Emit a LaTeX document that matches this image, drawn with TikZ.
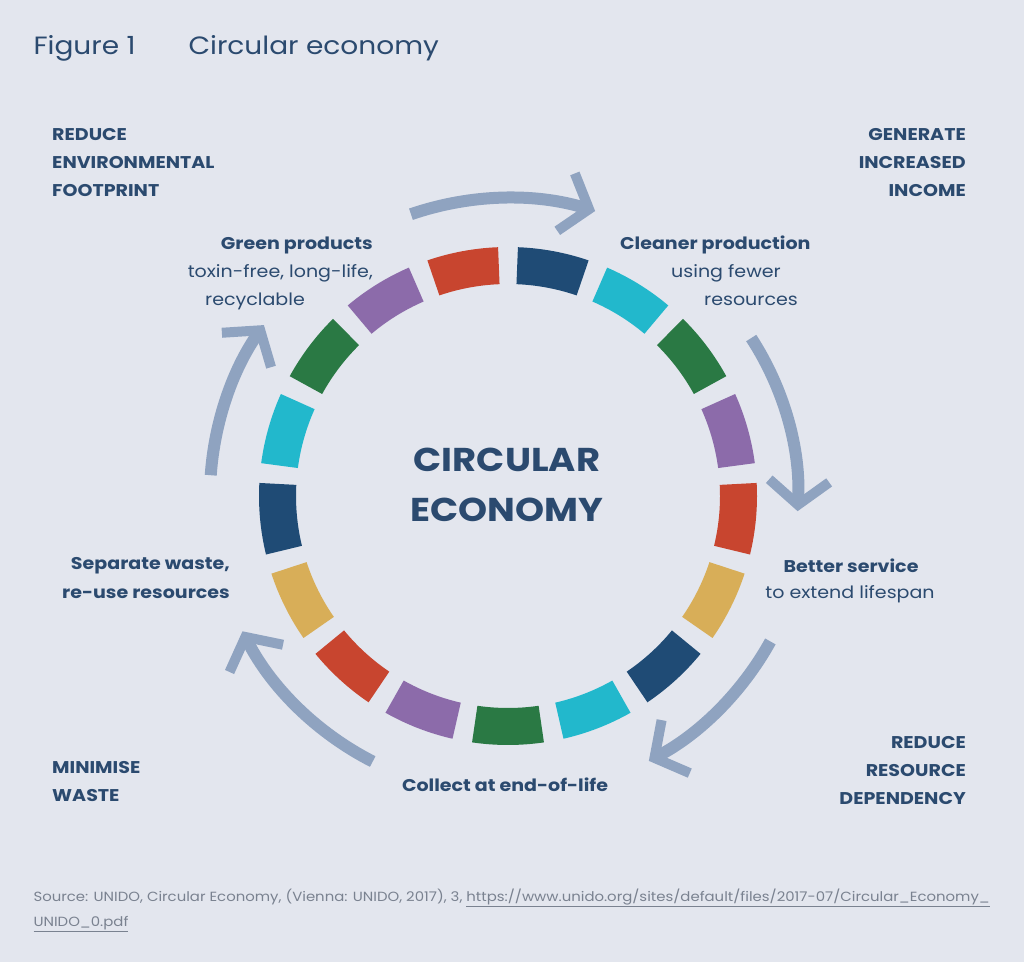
\documentclass[tikz,border=0pt]{standalone}
\usepackage{fontspec}
\setmainfont[FakeStretch=1.12]{Poppins}
\usetikzlibrary{arrows.meta}
\definecolor{bg}{HTML}{E3E6EE}
\definecolor{txt}{HTML}{2B4A6F}
\definecolor{arr}{HTML}{8FA3C0}
\definecolor{cnavy}{HTML}{1F4B75}
\definecolor{ccyan}{HTML}{22B8CC}
\definecolor{cgreen}{HTML}{2A7944}
\definecolor{cpurple}{HTML}{8C6BAA}
\definecolor{cred}{HTML}{C8452F}
\definecolor{cyellow}{HTML}{D8AE58}
\definecolor{src}{HTML}{7A8290}
\tikzset{
 lab/.style={text=txt,font=\fontsize{17}{28}\selectfont,inner sep=0pt},
 labb/.style={lab,font=\fontsize{17}{28}\selectfont\bfseries},
 cyc/.style={draw=arr,line width=12pt,-{Straight Barb[length=24pt,width=60pt,line width=10pt]}}
}
\begin{document}
\begin{tikzpicture}[x=1pt,y=1pt]
\fill[bg] (0,0) rectangle (1024,962);
\useasboundingbox (0,0) rectangle (1024,962);
\coordinate (c) at (508,466);
\foreach \k/\col in {0/cgreen,1/ccyan,2/cnavy,3/cyellow,4/cred,5/cpurple,6/cgreen,7/ccyan,8/cnavy,9/cred,10/cpurple,11/cgreen,12/ccyan,13/cnavy,14/cyellow,15/cred,16/cpurple}{
  \pgfmathsetmacro{\aa}{-90+\k*360/17-8.3}
  \pgfmathsetmacro{\ab}{-90+\k*360/17+8.3}
  \fill[\col] ([shift={(c)}]\aa:212) arc[start angle=\aa,end angle=\ab,radius=212]
     -- ([shift={(c)}]\ab:249) arc[start angle=\ab,end angle=\aa,radius=249] -- cycle;
}
\draw[cyc] ([shift={(c)}]109:298) arc[start angle=109,end angle=73,radius=298];
\draw[cyc] ([shift={(c)}]33:290) arc[start angle=33,end angle=-3,radius=290];
\draw[cyc] ([shift={(c)}]-29:300) arc[start angle=-29,end angle=-62,radius=300];
\draw[cyc] ([shift={(c)}]243:298) arc[start angle=243,end angle=207,radius=298];
\draw[cyc] ([shift={(c)}]176:298) arc[start angle=176,end angle=145,radius=298];
\node[text=txt,font=\fontsize{25}{30}\selectfont,anchor=west] (t1) at (30,914) {Figure 1};
\node[text=txt,font=\fontsize{25}{30}\selectfont,anchor=west] (t2) at (185,914) {Circular economy};
\node[labb,anchor=west,align=left] (ul) at (52,799) {REDUCE\\ENVIRONMENTAL\\FOOTPRINT};
\node[labb,anchor=east,align=right] (ur) at (966,799) {GENERATE\\INCREASED\\INCOME};
\node[labb,anchor=west,align=left] (ll) at (52,180) {MINIMISE\\WASTE};
\node[labb,anchor=east,align=right] (lr) at (966,191) {REDUCE\\RESOURCE\\DEPENDENCY};
\node[labb,anchor=east] (g1) at (373,717) {Green products};
\node[lab,anchor=east] (g2) at (373,689) {toxin-free, long-life,};
\node[lab] (g3) at (255,661) {recyclable};
\node[labb,anchor=west] (c1) at (620,717) {Cleaner production};
\node[lab] (c2) at (726,689) {using fewer};
\node[lab] (c3) at (751,661) {resources};
\node[labb] (b1) at (851,396) {Better service};
\node[lab] (b2) at (850,368) {to extend lifespan};
\node[labb,anchor=east] (s1) at (230,396) {Separate waste,};
\node[labb,anchor=east] (s2) at (230,368) {re-use resources};
\node[labb] (e1) at (505,177) {Collect at end-of-life};
\node[text=txt,font=\fontsize{33}{50}\selectfont\bfseries,align=center] (ce) at (507,477) {CIRCULAR\\ECONOMY};
\node[text=src,font=\fontsize{13.3}{25}\selectfont,anchor=west,align=left] (so) at (30,52)
 {Source: UNIDO, Circular Economy, (Vienna: UNIDO, 2017), 3, \underline{https://www.unido.org/sites/default/files/2017-07/Circular\_Economy\_}\\\underline{UNIDO\_0.pdf}};
\end{tikzpicture}
\end{document}
